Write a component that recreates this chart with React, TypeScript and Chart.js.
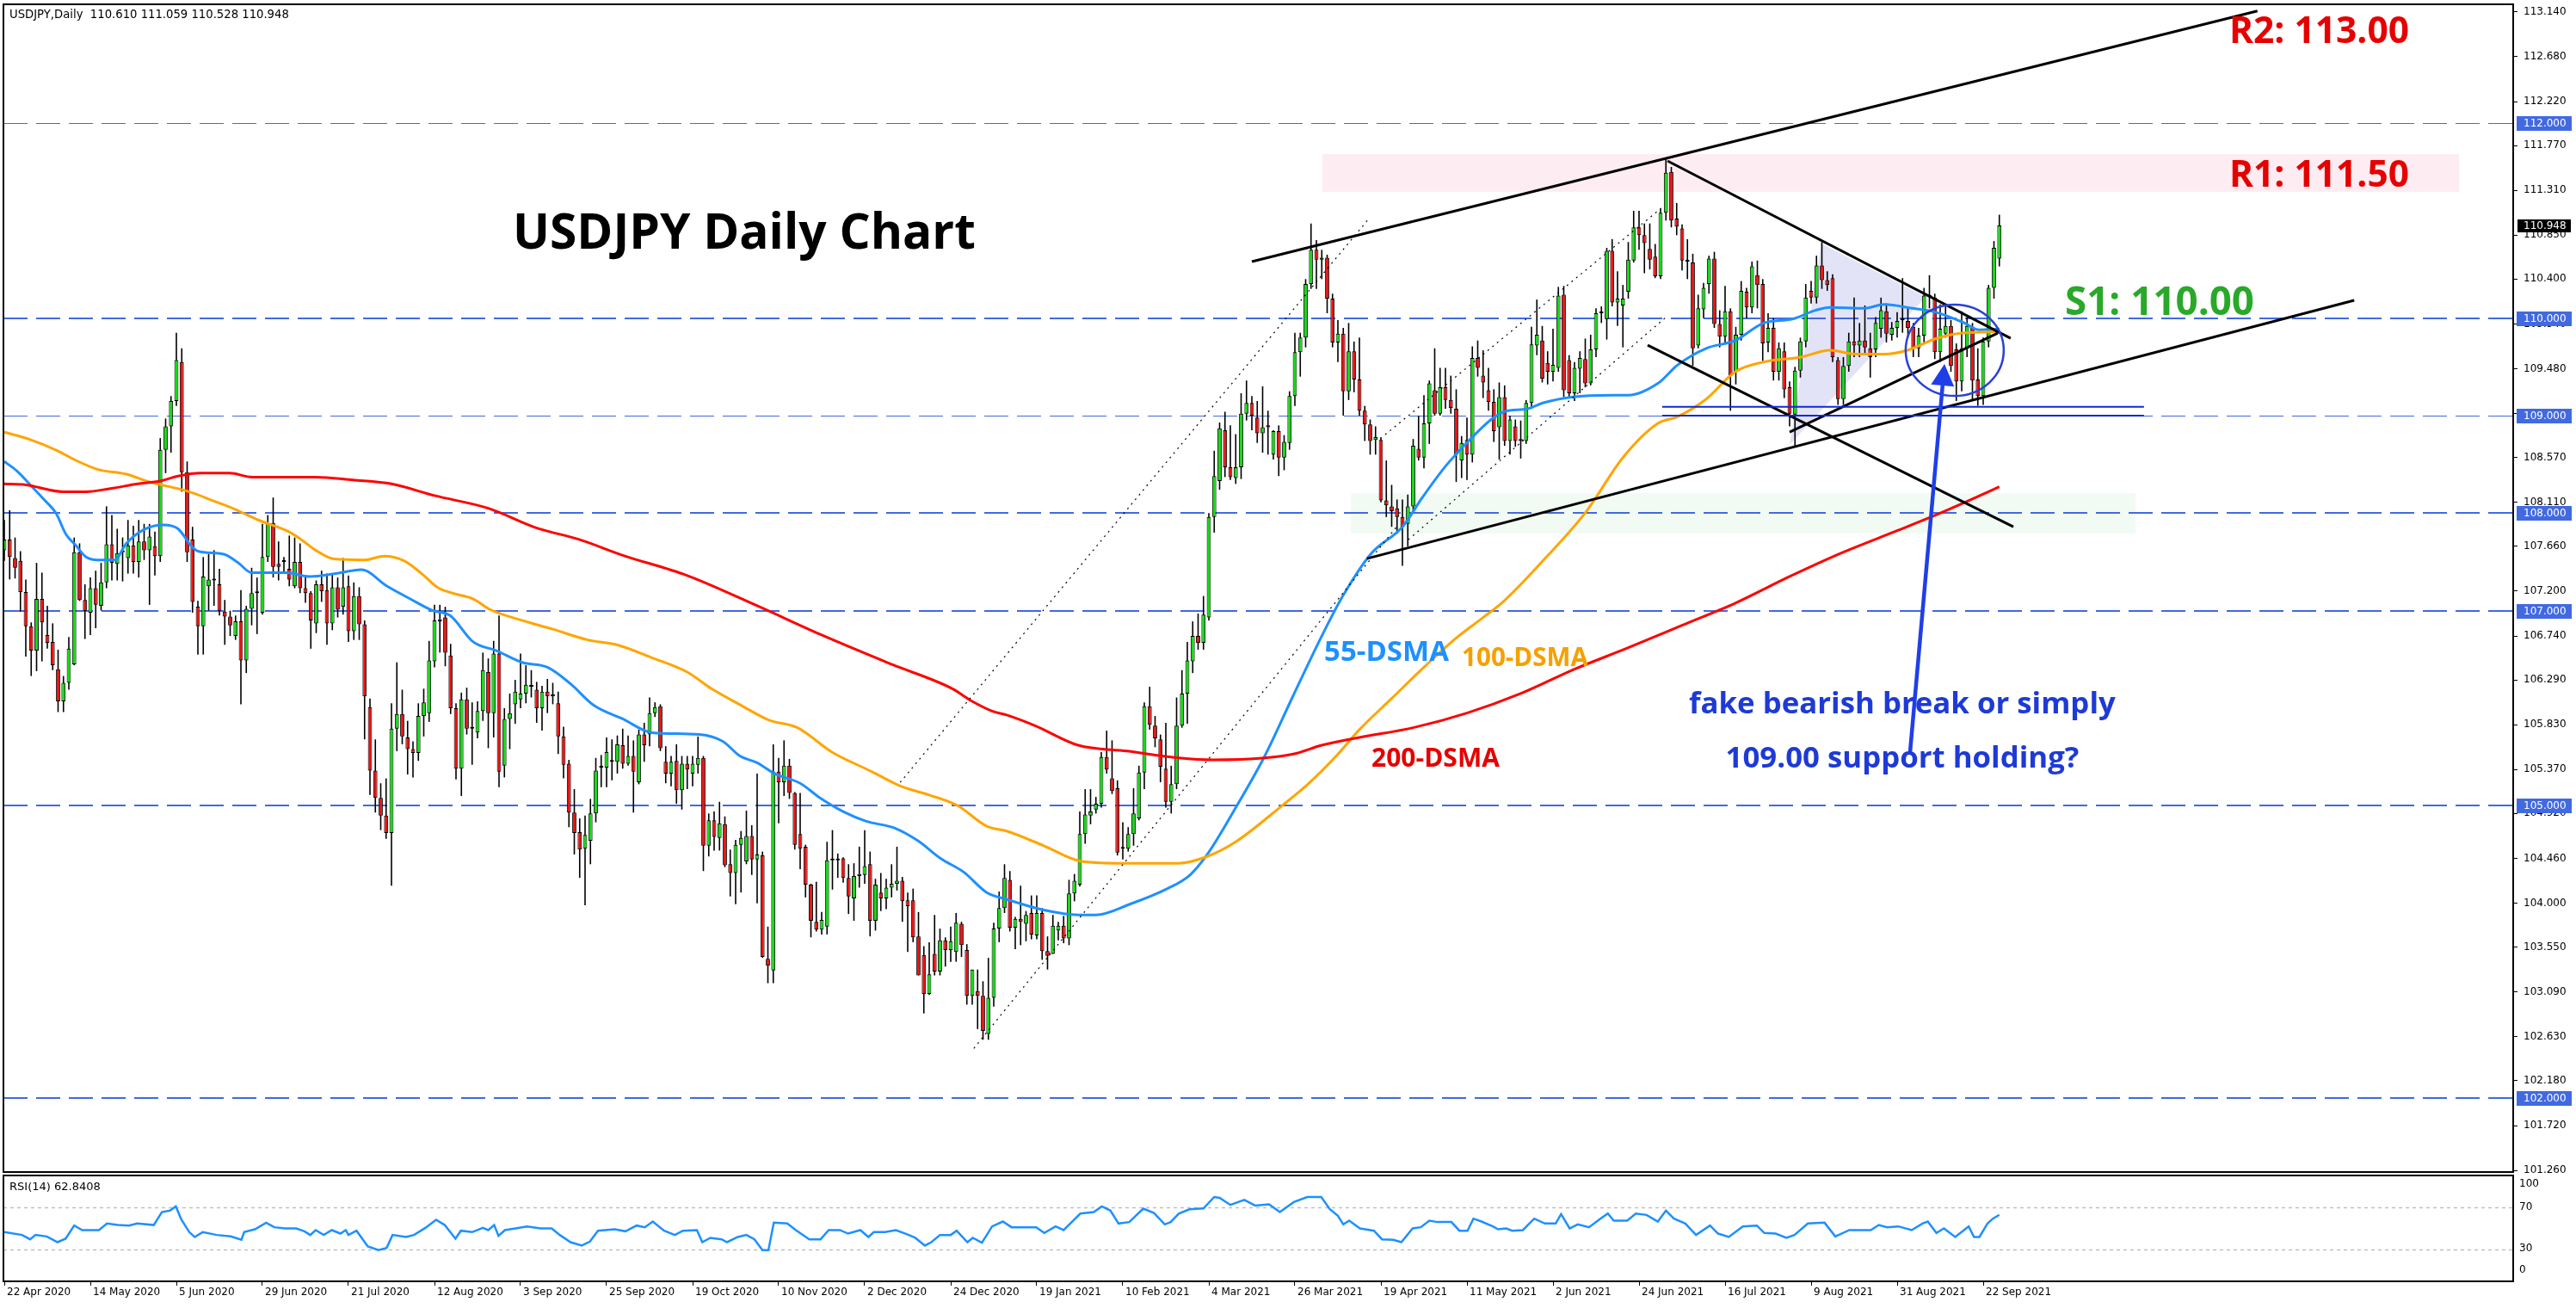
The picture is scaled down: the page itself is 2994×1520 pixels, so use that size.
import React, { useEffect, useRef } from 'react';
import { Chart, registerables } from 'chart.js';

Chart.register(...registerables);

// ---------------- data ----------------
const dateLabels = ['22 Apr 2020', '14 May 2020', '5 Jun 2020', '29 Jun 2020', '21 Jul 2020', '12 Aug 2020', '3 Sep 2020', '25 Sep 2020', '19 Oct 2020', '10 Nov 2020', '2 Dec 2020', '24 Dec 2020', '19 Jan 2021', '10 Feb 2021', '4 Mar 2021', '26 Mar 2021', '19 Apr 2021', '11 May 2021', '2 Jun 2021', '24 Jun 2021', '16 Jul 2021', '9 Aug 2021', '31 Aug 2021', '22 Sep 2021'];
const dateTickIndex = [0, 16, 32, 48, 64, 80, 96, 112, 128, 144, 160, 176, 192, 208, 224, 240, 256, 272, 288, 304, 320, 336, 352, 368];

const priceTicks = [113.14, 112.68, 112.22, 111.77, 111.31, 110.85, 110.4, 109.94, 109.48, 109.02, 108.57, 108.11, 107.66, 107.2, 106.74, 106.29, 105.83, 105.37, 104.92, 104.46, 104.0, 103.55, 103.09, 102.63, 102.18, 101.72, 101.26];
const levelPrices = [112, 110, 109, 108, 107, 105, 102];
const lastPrice = 110.948;
const headerText = 'USDJPY,Daily  110.610 111.059 110.528 110.948';
const rsiHeader = 'RSI(14) 62.8408';
const rsiLevels = [70, 30];
const rsiAxisLabels = ['100', '70', '30', '0'];

// daily candles [open, high, low, close], one per trading day from 22 Apr 2020
const ohlc: number[][] = [
  [107.62, 107.93, 107.51, 107.73], [107.73, 108.03, 107.32, 107.55], [107.54, 107.75, 107.33, 107.44], [107.51, 107.61, 106.99, 107.19], [107.19, 107.32, 106.53, 106.84],
  [106.84, 106.88, 106.33, 106.59], [106.59, 107.49, 106.38, 107.12], [107.12, 107.39, 106.48, 106.88], [106.75, 107.05, 106.61, 106.67], [106.68, 106.87, 106.39, 106.44],
  [106.40, 106.60, 105.96, 106.07], [106.07, 106.33, 105.96, 106.26], [106.26, 106.73, 106.19, 106.61], [106.45, 107.75, 106.44, 107.60], [107.60, 107.69, 107.10, 107.11],
  [107.11, 107.27, 106.71, 107.00], [106.98, 107.34, 106.75, 107.23], [107.23, 107.41, 106.82, 107.06], [107.05, 107.49, 107.00, 107.29], [107.29, 108.07, 107.23, 107.68],
  [107.68, 107.98, 107.31, 107.49], [107.48, 107.84, 107.31, 107.59], [107.60, 107.75, 107.30, 107.61], [107.54, 107.93, 107.38, 107.67], [107.67, 107.87, 107.38, 107.50],
  [107.50, 107.93, 107.34, 107.71], [107.71, 107.89, 107.52, 107.62], [107.62, 107.89, 107.06, 107.76], [107.66, 107.81, 107.36, 107.56], [107.56, 108.77, 107.50, 108.65],
  [108.65, 108.97, 108.41, 108.89], [108.89, 109.20, 108.62, 109.15], [109.15, 109.85, 109.10, 109.57], [109.55, 109.69, 108.22, 108.42], [108.42, 108.53, 107.50, 107.60],
  [107.73, 107.86, 106.98, 107.09], [107.04, 107.10, 106.55, 106.84], [106.84, 107.55, 106.55, 107.35], [107.25, 107.58, 107.00, 107.32], [107.32, 107.62, 107.05, 107.31],
  [107.27, 107.43, 106.95, 107.00], [106.99, 107.11, 106.65, 106.94], [106.94, 107.00, 106.74, 106.85], [106.74, 106.95, 106.70, 106.89], [106.89, 107.21, 106.04, 106.49],
  [106.49, 107.05, 106.36, 107.02], [107.02, 107.44, 106.85, 107.18], [107.18, 107.34, 106.76, 107.19], [106.98, 107.89, 106.96, 107.55], [107.55, 107.98, 107.50, 107.90],
  [107.90, 108.16, 107.34, 107.45], [107.48, 107.71, 107.31, 107.45], [107.50, 107.55, 107.40, 107.51], [107.43, 107.77, 107.25, 107.32], [107.25, 107.75, 107.23, 107.50],
  [107.50, 107.69, 107.18, 107.23], [107.23, 107.35, 107.08, 107.18], [107.18, 107.20, 106.61, 106.90], [106.87, 107.31, 106.77, 107.27], [107.27, 107.41, 107.09, 107.20],
  [107.21, 107.38, 106.65, 106.87], [106.87, 107.38, 106.80, 107.24], [107.24, 107.34, 106.93, 107.01], [107.04, 107.54, 106.96, 107.24], [107.25, 107.36, 106.68, 106.79],
  [106.79, 107.29, 106.70, 107.15], [107.15, 107.24, 106.70, 106.86], [106.86, 106.90, 105.68, 106.12], [106.01, 106.10, 105.11, 105.36], [105.36, 105.68, 104.93, 105.08],
  [105.08, 105.23, 104.75, 104.90], [104.90, 105.28, 104.66, 104.72], [104.72, 106.05, 104.18, 105.79], [105.79, 106.47, 105.56, 105.94], [105.94, 106.19, 105.63, 105.71],
  [105.70, 105.87, 105.32, 105.58], [105.58, 105.66, 105.29, 105.54], [105.54, 106.05, 105.46, 105.92], [105.92, 106.20, 105.71, 106.06], [105.95, 106.69, 105.86, 106.49],
  [106.48, 107.06, 106.42, 106.90], [106.89, 107.06, 106.57, 106.91], [106.93, 107.04, 106.43, 106.57], [106.54, 106.66, 105.94, 106.00], [106.00, 106.05, 105.27, 105.38],
  [105.38, 106.16, 105.10, 106.09], [106.09, 106.21, 105.73, 105.79], [105.79, 106.06, 105.42, 105.80], [105.75, 106.07, 105.69, 105.97], [105.97, 106.57, 105.87, 106.39],
  [106.37, 106.51, 105.59, 105.95], [105.95, 106.69, 105.70, 106.56], [106.56, 106.95, 105.19, 105.35], [105.41, 106.00, 105.29, 105.89], [105.89, 106.15, 105.58, 105.95],
  [106.04, 106.29, 105.84, 106.17], [106.09, 106.56, 106.00, 106.15], [106.15, 106.44, 106.05, 106.24], [106.22, 106.39, 106.11, 106.23], [106.19, 106.27, 105.85, 106.00],
  [106.00, 106.23, 105.77, 106.17], [106.17, 106.30, 105.95, 106.12], [106.14, 106.26, 106.04, 106.12], [106.05, 106.17, 105.53, 105.71], [105.71, 105.81, 105.28, 105.42],
  [105.43, 105.47, 104.78, 104.93], [104.93, 105.17, 104.50, 104.72], [104.73, 104.87, 104.26, 104.55], [104.56, 104.90, 103.98, 104.70], [104.64, 105.07, 104.40, 104.92],
  [104.92, 105.49, 104.83, 105.36], [105.39, 105.52, 105.19, 105.40], [105.39, 105.70, 105.19, 105.55], [105.45, 105.68, 105.26, 105.46], [105.45, 105.72, 105.33, 105.63],
  [105.62, 105.79, 105.38, 105.43], [105.43, 105.72, 105.41, 105.51], [105.51, 105.67, 104.93, 105.35], [105.24, 105.78, 105.22, 105.73], [105.73, 105.85, 105.45, 105.62],
  [105.73, 106.11, 105.61, 105.95], [105.95, 106.06, 105.91, 106.01], [106.02, 106.04, 105.56, 105.59], [105.45, 105.61, 105.23, 105.33], [105.33, 105.51, 105.20, 105.45],
  [105.46, 105.63, 105.02, 105.16], [105.16, 105.51, 104.96, 105.43], [105.43, 105.51, 105.17, 105.37], [105.33, 105.51, 105.20, 105.43], [105.42, 105.71, 105.33, 105.49],
  [105.49, 105.51, 104.33, 104.59], [104.59, 104.92, 104.48, 104.85], [104.85, 104.94, 104.54, 104.68], [104.67, 105.04, 104.54, 104.82], [104.81, 104.89, 104.37, 104.39],
  [104.40, 104.55, 104.07, 104.31], [104.31, 104.65, 103.99, 104.60], [104.60, 104.74, 104.11, 104.67], [104.43, 104.95, 104.40, 104.69], [104.69, 104.80, 104.29, 104.45],
  [104.45, 105.33, 104.00, 104.50], [104.49, 104.53, 103.44, 103.45], [103.43, 103.76, 103.18, 103.36], [103.31, 105.63, 103.18, 105.35], [105.35, 105.49, 104.82, 105.24],
  [105.24, 105.67, 105.10, 105.41], [105.41, 105.48, 105.07, 105.13], [105.13, 105.14, 104.55, 104.60], [104.71, 105.13, 104.35, 104.56], [104.58, 104.60, 104.06, 104.19],
  [104.19, 104.20, 103.65, 103.82], [103.81, 104.22, 103.71, 103.73], [103.73, 103.91, 103.68, 103.83], [103.76, 104.63, 103.68, 104.44], [104.44, 104.75, 104.14, 104.45],
  [104.44, 104.51, 104.26, 104.45], [104.46, 104.47, 104.21, 104.26], [104.26, 104.40, 103.89, 104.07], [104.05, 104.41, 103.82, 104.28], [104.28, 104.58, 104.16, 104.30],
  [104.29, 104.75, 104.20, 104.38], [104.40, 104.53, 103.66, 103.82], [103.82, 104.25, 103.72, 104.19], [104.11, 104.31, 103.92, 104.05], [104.05, 104.25, 103.94, 104.16],
  [104.16, 104.40, 104.06, 104.20], [104.20, 104.58, 104.13, 104.23], [104.23, 104.27, 103.81, 104.02], [104.03, 104.11, 103.50, 103.97], [104.03, 104.15, 103.60, 103.65],
  [103.66, 103.91, 103.26, 103.26], [103.47, 103.56, 102.87, 103.07], [103.07, 103.60, 103.06, 103.27], [103.48, 103.88, 103.26, 103.30], [103.30, 103.74, 103.26, 103.62],
  [103.62, 103.65, 103.35, 103.52], [103.52, 103.76, 103.40, 103.61], [103.50, 103.90, 103.40, 103.80], [103.79, 103.81, 103.45, 103.57], [103.52, 103.58, 102.96, 103.05],
  [103.05, 103.32, 102.96, 103.32], [103.10, 103.32, 102.71, 103.05], [103.05, 103.20, 102.60, 102.69], [102.66, 103.44, 102.60, 103.03], [103.03, 103.80, 102.94, 103.74],
  [103.74, 104.12, 103.60, 103.95], [103.95, 104.40, 103.90, 104.26], [104.24, 104.33, 103.71, 103.75], [103.75, 103.86, 103.53, 103.84], [103.84, 104.18, 103.57, 103.81],
  [103.79, 103.92, 103.61, 103.88], [103.90, 104.08, 103.63, 103.68], [103.67, 104.08, 103.63, 103.90], [103.90, 103.95, 103.42, 103.51], [103.51, 103.66, 103.32, 103.46],
  [103.48, 103.88, 103.48, 103.77], [103.72, 103.81, 103.62, 103.77], [103.77, 103.87, 103.59, 103.64], [103.64, 104.24, 103.57, 104.10], [104.10, 104.30, 104.02, 104.23],
  [104.19, 104.94, 104.17, 104.71], [104.71, 105.17, 104.61, 104.91], [104.90, 105.17, 104.81, 104.94], [104.96, 105.09, 104.92, 105.02], [105.02, 105.55, 104.98, 105.50],
  [105.50, 105.77, 105.33, 105.37], [105.28, 105.67, 105.12, 105.15], [105.18, 105.26, 104.49, 104.52], [104.56, 104.83, 104.45, 104.57], [104.56, 104.78, 104.53, 104.71],
  [104.71, 105.18, 104.59, 104.92], [104.87, 105.41, 104.85, 105.34], [105.34, 106.06, 105.17, 106.02], [106.02, 106.22, 105.78, 105.83], [105.82, 105.92, 105.60, 105.69],
  [105.68, 105.73, 105.24, 105.40], [105.38, 105.85, 104.98, 105.04], [105.04, 105.41, 104.92, 105.22], [105.22, 106.11, 105.17, 105.82], [105.82, 106.39, 105.80, 106.15],
  [106.15, 106.68, 105.84, 106.49], [106.48, 106.89, 106.36, 106.74], [106.74, 106.97, 106.60, 106.67], [106.67, 107.15, 106.60, 106.96], [106.93, 108.00, 106.90, 107.96],
  [107.96, 108.64, 107.80, 108.38], [108.33, 108.93, 108.24, 108.87], [108.85, 109.04, 108.37, 108.47], [108.47, 108.90, 108.34, 108.37], [108.36, 108.81, 108.30, 108.47],
  [108.47, 109.23, 108.35, 109.02], [109.02, 109.36, 108.95, 109.13], [109.13, 109.20, 108.85, 109.00], [108.98, 109.15, 108.72, 108.82], [108.82, 109.30, 108.62, 108.88],
  [108.90, 109.05, 108.60, 108.88], [108.60, 108.85, 108.55, 108.84], [108.84, 108.90, 108.38, 108.57], [108.57, 108.80, 108.44, 108.73], [108.72, 109.25, 108.65, 109.20],
  [109.20, 109.85, 109.10, 109.65], [109.65, 109.85, 109.40, 109.80], [109.80, 110.40, 109.70, 110.35], [110.35, 110.97, 110.30, 110.70], [110.70, 110.80, 110.30, 110.60],
  [110.60, 110.70, 110.40, 110.62], [110.62, 110.65, 110.05, 110.20], [110.20, 110.25, 109.70, 109.75], [109.75, 109.98, 109.55, 109.84], [109.84, 109.90, 109.00, 109.25],
  [109.25, 109.95, 109.16, 109.66], [109.66, 109.76, 109.24, 109.37], [109.37, 109.80, 109.00, 109.05], [109.05, 109.10, 108.74, 108.91], [108.91, 108.96, 108.60, 108.74],
  [108.75, 108.89, 108.60, 108.78], [108.75, 108.78, 108.11, 108.13], [108.13, 108.54, 107.96, 108.08], [108.07, 108.29, 107.86, 108.02], [108.05, 108.14, 107.79, 107.96],
  [107.96, 108.14, 107.46, 107.86], [107.89, 108.19, 107.66, 108.07], [108.07, 108.76, 108.00, 108.69], [108.66, 109.00, 108.54, 108.57], [108.57, 109.21, 108.46, 108.92],
  [108.92, 109.36, 108.71, 109.33], [109.26, 109.69, 109.00, 109.02], [109.02, 109.49, 109.00, 109.29], [109.29, 109.49, 109.07, 109.16], [109.16, 109.41, 109.02, 109.08],
  [109.07, 109.27, 108.32, 108.60], [108.54, 108.79, 108.36, 108.72], [108.75, 108.98, 108.34, 108.60], [108.60, 109.71, 108.52, 109.59], [109.59, 109.77, 109.40, 109.49],
  [109.41, 109.67, 109.18, 109.34], [109.26, 109.49, 109.05, 109.14], [109.14, 109.27, 108.73, 108.84], [108.88, 109.34, 108.55, 109.19], [109.19, 109.31, 108.69, 108.74],
  [108.74, 109.00, 108.60, 108.96], [108.89, 108.96, 108.68, 108.74], [108.76, 108.95, 108.56, 108.74], [108.74, 109.16, 108.71, 109.13], [109.13, 109.91, 109.08, 109.73],
  [109.72, 110.19, 109.62, 109.83], [109.77, 109.92, 109.34, 109.38], [109.54, 109.66, 109.32, 109.45], [109.45, 109.89, 109.35, 109.52], [109.49, 110.32, 109.45, 110.23],
  [110.24, 110.33, 109.19, 109.26], [109.57, 109.62, 109.19, 109.23], [109.23, 109.55, 109.15, 109.49], [109.48, 109.66, 109.23, 109.59], [109.58, 109.79, 109.29, 109.33],
  [109.33, 109.83, 109.31, 109.68], [109.68, 110.10, 109.60, 110.05], [110.05, 110.12, 109.95, 110.06], [109.99, 110.72, 109.78, 110.69], [110.69, 110.81, 110.12, 110.16],
  [110.16, 110.48, 109.92, 110.20], [110.13, 110.34, 109.70, 110.20], [110.27, 110.78, 110.20, 110.60], [110.59, 111.10, 110.57, 110.93], [110.93, 111.10, 110.70, 110.85],
  [110.85, 110.97, 110.46, 110.77], [110.71, 110.97, 110.50, 110.60], [110.63, 110.76, 110.41, 110.43], [110.43, 111.12, 110.40, 111.08], [111.08, 111.63, 111.00, 111.49],
  [111.50, 111.55, 110.93, 111.00], [111.02, 111.18, 110.85, 110.94], [110.92, 110.96, 110.49, 110.59], [110.59, 110.81, 110.40, 110.58], [110.57, 110.66, 109.51, 109.69],
  [109.72, 110.24, 109.69, 110.10], [110.09, 110.36, 110.00, 110.31], [110.35, 110.64, 110.25, 110.61], [110.61, 110.68, 109.90, 109.94], [109.94, 110.08, 109.70, 109.81],
  [109.81, 110.33, 109.75, 110.07], [110.07, 110.10, 109.05, 109.41], [109.45, 109.91, 109.32, 109.83], [109.83, 110.38, 109.77, 110.28], [110.27, 110.31, 110.00, 110.11],
  [110.11, 110.58, 110.05, 110.53], [110.44, 110.59, 110.10, 110.34], [110.35, 110.40, 109.56, 109.74], [109.75, 110.05, 109.65, 109.90], [109.90, 110.00, 109.36, 109.45],
  [109.45, 109.75, 109.36, 109.69], [109.66, 109.75, 109.18, 109.27], [109.29, 109.35, 108.89, 109.02], [109.01, 109.50, 108.69, 109.46], [109.46, 109.80, 109.39, 109.76],
  [109.76, 110.35, 109.70, 110.21], [110.28, 110.38, 110.15, 110.21], [110.21, 110.64, 110.15, 110.54], [110.54, 110.78, 110.30, 110.39], [110.39, 110.48, 110.28, 110.34],
  [110.41, 110.45, 109.55, 109.60], [109.57, 109.60, 109.11, 109.17], [109.17, 109.60, 109.11, 109.51], [109.51, 109.85, 109.45, 109.76], [109.76, 110.21, 109.60, 109.72],
  [109.72, 109.95, 109.60, 109.77], [109.77, 110.13, 109.62, 109.70], [109.69, 109.85, 109.39, 109.60], [109.68, 110.01, 109.60, 109.95], [109.89, 110.21, 109.80, 110.08],
  [110.07, 110.15, 109.75, 109.84], [109.83, 109.96, 109.77, 109.90], [109.90, 110.06, 109.80, 109.97], [109.99, 110.41, 109.85, 109.98], [109.97, 110.10, 109.80, 109.90],
  [109.91, 109.95, 109.60, 109.69], [109.69, 109.90, 109.60, 109.82], [109.82, 110.31, 109.75, 110.23], [110.24, 110.44, 110.10, 110.22], [110.21, 110.25, 109.58, 109.65],
  [109.65, 110.14, 109.55, 109.89], [109.84, 110.13, 109.80, 109.92], [109.92, 109.98, 109.45, 109.51], [109.68, 109.74, 109.15, 109.35], [109.35, 110.07, 109.25, 109.69],
  [109.69, 110.01, 109.60, 109.92], [109.91, 109.95, 109.15, 109.36], [109.37, 109.69, 109.10, 109.20], [109.20, 109.80, 109.11, 109.76], [109.76, 110.34, 109.70, 110.31],
  [110.31, 110.79, 110.20, 110.72], [110.61, 111.06, 110.53, 110.95],
];

// moving averages: [bar index, value]
const ma55: number[][] = [
  [0, 108.53], [2.4, 108.43], [4.5, 108.31], [7.2, 108.15], [9.6, 108.0], [11.5, 107.78], [13.3, 107.67], [15.2, 107.55], [17.3, 107.52], [20.5, 107.52],
  [22.7, 107.69], [25.9, 107.83], [29.6, 107.88], [32.3, 107.84], [34.7, 107.67], [36, 107.61], [40.8, 107.58], [43.5, 107.49], [46, 107.39], [52.5, 107.39],
  [56.8, 107.35], [61.6, 107.38], [66.4, 107.42], [71.2, 107.25], [75.5, 107.12], [79.7, 107.0], [82.9, 106.95], [87.2, 106.68], [91.5, 106.59], [96.3, 106.47],
  [101, 106.42], [105.3, 106.25], [109.6, 106.03], [115, 105.89], [120.3, 105.75], [124, 105.74], [129.3, 105.73], [133.6, 105.66], [136.8, 105.51], [140, 105.44],
  [143.2, 105.33], [148, 105.23], [151.7, 105.08], [156, 104.94], [160.3, 104.84], [165.6, 104.77], [169.9, 104.64], [174.1, 104.46], [178.4, 104.32], [182.7, 104.11],
  [186.4, 104.04], [193.3, 103.93], [199.7, 103.88], [203, 103.88], [209.3, 103.99], [216.3, 104.15], [220.5, 104.29], [223.7, 104.5], [229, 104.98], [234.4, 105.51],
  [239.7, 106.13], [245, 106.74], [248.8, 107.14], [254.1, 107.58], [260, 107.86], [263.7, 108.16], [268, 108.48], [272.3, 108.74], [276.5, 108.96], [278.9, 109.04],
  [283.3, 109.07], [286.1, 109.13], [291.5, 109.19], [299, 109.21], [302, 109.21], [307.5, 109.33], [311.2, 109.52], [316.5, 109.69], [321.9, 109.77], [327.2, 109.95],
  [332.5, 109.99], [336.8, 110.08], [339.5, 110.11], [345.9, 110.1], [349.6, 110.14], [354.9, 110.1], [359.2, 110.06], [364.5, 109.95], [367.2, 109.88], [371, 109.89],
];
const ma100: number[][] = [
  [0, 108.83], [4.5, 108.76], [9.9, 108.64], [13, 108.55], [17.3, 108.45], [22.7, 108.4], [27, 108.32], [30, 108.28], [34.4, 108.22], [38.7, 108.13],
  [42.9, 108.04], [47.2, 107.93], [52.5, 107.82], [55.2, 107.73], [57.9, 107.62], [61.3, 107.53], [66.9, 107.52], [70.7, 107.56], [74.4, 107.51], [77.6, 107.38],
  [80.8, 107.23], [84, 107.17], [87.2, 107.12], [90.4, 107.01], [95.7, 106.91], [102, 106.81], [108.5, 106.7], [113.9, 106.65], [120.3, 106.52], [127, 106.37],
  [131.5, 106.2], [137, 106.03], [142.1, 105.88], [147.5, 105.8], [153.9, 105.55], [161.3, 105.35], [166.7, 105.2], [172, 105.11], [177.3, 105.0], [182.7, 104.79],
  [186.4, 104.74], [193.3, 104.59], [200.3, 104.43], [208.8, 104.41], [218.4, 104.41], [223.7, 104.48], [229, 104.63], [237.6, 105.0], [242.4, 105.22], [247.7, 105.51],
  [252, 105.78], [258, 106.1], [264, 106.42], [270, 106.72], [275, 106.93], [278.9, 107.1], [286.1, 107.51], [294.1, 108.01], [301, 108.57], [307.5, 108.92],
  [311.2, 108.99], [316.5, 109.17], [321.9, 109.45], [327.2, 109.55], [334.1, 109.6], [339.5, 109.67], [344.3, 109.63], [349.6, 109.63], [353.9, 109.67], [359.2, 109.79],
  [364.5, 109.85], [371, 109.86],
];
const ma200: number[][] = [
  [0, 108.3], [4, 108.29], [10.9, 108.22], [15.2, 108.22], [19.5, 108.25], [24.8, 108.3], [29, 108.33], [32.3, 108.38], [36.5, 108.41], [41.9, 108.41],
  [46.1, 108.37], [57.9, 108.37], [64.8, 108.34], [72, 108.3], [80, 108.18], [90, 108.05], [98.9, 107.85], [106.9, 107.73], [114.9, 107.57], [127, 107.36],
  [140, 107.05], [152, 106.75], [165, 106.45], [176.3, 106.2], [180, 106.07], [183.7, 105.97], [186.4, 105.93], [191.7, 105.82], [199.7, 105.62], [208.8, 105.56],
  [218.4, 105.49], [224.8, 105.47], [234.4, 105.49], [239.7, 105.53], [245, 105.62], [252, 105.7], [262, 105.8], [272, 105.95], [282, 106.15], [292, 106.4],
  [302, 106.62], [312, 106.85], [322, 107.08], [332, 107.35], [342, 107.6], [352, 107.82], [359.6, 107.99], [365, 108.12], [371, 108.27],
];
const rsi14: number[][] = [
  [0, 46.5], [3.3, 43.8], [4.8, 39.7], [5.8, 43.8], [7.9, 42.4], [9.9, 37], [11.4, 40.3], [13, 52.7], [14.5, 48.4], [17.6, 48.4], [19.1, 54.6], [21.1, 53.2], [23.2, 52.7],
  [24.7, 54.6], [27.8, 53.2], [29.3, 65.4], [30.8, 66.8], [31.9, 70.8], [32.9, 58.7], [34.4, 46.5], [35.4, 41.9], [36.9, 46.5], [39.5, 43.8], [42.1, 42.4], [44.1, 39.2],
  [44.6, 46.5], [46.6, 49.2], [48.7, 55.4], [50.2, 51.1], [52.2, 50], [54.3, 50], [55.8, 47.3], [56.9, 43.8], [57.9, 48.4], [59.4, 43.8], [60.9, 48.4], [62.5, 45.1],
  [63.5, 48.4], [64, 43.8], [65.5, 47.8], [67.6, 33], [69.6, 29.5], [71.1, 31.6], [72.2, 43.8], [74.7, 41.9], [76.2, 43.8], [78.3, 50.5], [80.3, 58.1], [81.9, 53.2],
  [83.9, 40.3], [84.9, 47.8], [87, 46.5], [89, 50.5], [90, 48.4], [91.1, 53.2], [91.9, 43], [93.1, 48.4], [95.1, 50], [97.2, 51.9], [99.7, 50], [101.8, 50], [103.3, 43.8],
  [105.3, 37], [107.4, 33.8], [108.9, 37.6], [110.4, 47.8], [113.5, 49.2], [115.5, 47.3], [117.6, 52.7], [119.1, 51.1], [120.6, 56.5], [122.7, 47.8], [124.7, 43.8],
  [126.2, 47.8], [128.8, 48.4], [129.8, 37], [131.3, 41.1], [133.4, 39.7], [134.4, 37], [136.4, 41.9], [138, 43.8], [139.5, 39.7], [141, 29.5], [142.1, 29.5], [143.1, 55.4],
  [145.6, 54.6], [147.2, 48.4], [149.7, 39.7], [151.8, 39.7], [153.3, 48.4], [155.4, 48.4], [156.9, 45.1], [159.2, 48.4], [160.7, 41.9], [161.7, 46.5], [163.8, 46.5],
  [165.8, 48.4], [167.8, 44.6], [169.4, 41.1], [171.2, 33.8], [172.4, 37], [174, 43.8], [176, 43.8], [177.1, 47.8], [179.1, 37], [180.1, 41.1], [181.8, 36.5], [183.7, 51.9],
  [185.7, 56.5], [187.3, 51.1], [191.9, 51.1], [193.4, 45.7], [195.5, 51.9], [197, 48.4], [198.5, 56], [200.1, 64], [202.6, 65.4], [204.1, 70.8], [205.7, 66.8], [207.2, 54.6],
  [209.2, 56], [211.8, 68.7], [213.8, 64.6], [215.8, 53.8], [216.9, 56], [218.4, 64], [220.4, 68.1], [223, 68.9], [225, 79.7], [226, 78.9], [228, 72.2], [230.6, 77],
  [232.6, 71.6], [235.2, 72.7], [237.2, 65.4], [239.8, 74.9], [242.3, 79.7], [244.9, 79.7], [246.5, 68.1], [248, 61.9], [249, 53.8], [250.1, 57.3], [252.1, 50], [254.7, 47.8],
  [256.2, 39.7], [258.3, 39.2], [259.8, 37], [261.9, 50], [263.4, 51.1], [265, 57.3], [266.5, 56], [269.1, 56], [270.6, 47.8], [272.1, 47.8], [273.2, 59.2], [274.7, 56.5],
  [276.8, 51.9], [277.8, 49.2], [279.3, 50], [280.4, 47.8], [282.4, 48.4], [284.5, 59.2], [286.5, 54.6], [288.5, 54.6], [289.5, 63.5], [291.1, 50], [292.6, 53.8], [294.7, 51.1],
  [296.7, 58.7], [298.2, 64], [299.3, 57.3], [301.8, 57.3], [303.4, 64], [305.4, 62.7], [307.5, 56.5], [309, 66.8], [310.5, 59.2], [312.6, 54.6], [314.6, 43.8], [317.2, 52.7],
  [318.7, 45.1], [320.7, 41.9], [323.3, 51.9], [325.9, 52.7], [327.3, 45.7], [329.4, 45.1], [331.4, 41.1], [332.9, 43.8], [335.4, 54.6], [338.5, 55.4], [340.5, 42.4],
  [343.1, 48.4], [347.1, 48.4], [348.6, 53.2], [350.1, 51.1], [352.2, 51.9], [354.7, 48.4], [356.7, 54.6], [357.7, 56.5], [359.3, 45.7], [360.7, 50], [362.8, 41.9],
  [365.3, 51.9], [366.3, 41.9], [367.3, 41.9], [368.8, 54.6], [369.8, 59.2], [371, 62.84],
];

// ---------------- annotation geometry (in bar index / price units) ----------------
const thickLines = [
  [232, 110.58, 419, 113.15],
  [253.4, 107.534, 437, 110.182],
  [309.3, 111.612, 373.1, 109.793],
  [305.6, 109.723, 373.6, 107.861],
  [332, 108.831, 370.7, 109.846],
];
const dottedLines = [
  [166.6, 105.239, 253.9, 111.029],
  [180.3, 102.512, 259.2, 107.878],
  [261.1, 107.728, 309.1, 110.014],
  [256.8, 108.805, 308.5, 111.144],
];
const supportLines = [[308.3, 109.09, 397.9], [308.3, 109.0, 397.9]];
const pinkZone = [245.1, 111.682, 456.5, 111.294];
const greenZone = [250.4, 108.205, 396.3, 107.79];
const triangle = [[337.9, 110.764], [332, 108.699], [357.3, 110.217]];
const ellipse = { x: 362.7, y: 109.67, rx: 9.12, ry: 0.468 };
const arrow = [354.4, 105.548, 360.8, 109.529];

// ---------------- styling ----------------
const W = 2994, H = 1520, MAIN_H = 1364, RSI_H = H - MAIN_H;
const XMIN = -0.16, XMAX = 466.56;
const YMIN = 101.2437, YMAX = 113.2177;
const AXIS_W = 73;
const UP = '#12dc12', DOWN = '#ee1010';
const LEVEL_BLUE = '#4169e1';
const levelWidths = [1, 2, 1, 2, 2, 2, 2];
const TXT_FONT = "'Open Sans', 'DejaVu Sans', sans-serif";
const AX_FONT = "'DejaVu Sans', sans-serif";

function fitText(ctx: CanvasRenderingContext2D, text: string, x1: number, x2: number, yc: number, color: string, weight = '700', family = TXT_FONT) {
  ctx.font = `${weight} 100px ${family}`;
  const w = ctx.measureText(text).width;
  const size = (100 * (x2 - x1)) / w;
  ctx.font = `${weight} ${size}px ${family}`;
  ctx.fillStyle = color;
  ctx.textAlign = 'left';
  ctx.textBaseline = 'middle';
  ctx.fillText(text, x1, yc);
  return size;
}

const labelTexts = [
  { t: 'USDJPY Daily Chart', x1: 596, x2: 1134, y: 273, c: '#000000' },
  { t: 'R2: 113.00', x1: 2591, x2: 2800, y: 38, c: '#e60000' },
  { t: 'R1: 111.50', x1: 2591, x2: 2800, y: 205, c: '#e60000' },
  { t: 'S1: 110.00', x1: 2400, x2: 2620, y: 353, c: '#2aa82a' },
  { t: '55-DSMA', x1: 1539, x2: 1684, y: 759, c: '#1e90ff' },
  { t: '100-DSMA', x1: 1699, x2: 1846, y: 766, c: '#f5a000' },
  { t: '200-DSMA', x1: 1594, x2: 1743, y: 882, c: '#e60000' },
];

const mainDecor = {
  id: 'mainDecor',
  beforeDatasetsDraw(chart: any) {
    const { ctx, chartArea: a, scales } = chart;
    const X = (v: number) => scales.x.getPixelForValue(v);
    const Y = (v: number) => scales.y.getPixelForValue(v);
    ctx.save();
    ctx.beginPath();
    ctx.rect(a.left, a.top, a.right - a.left, a.bottom - a.top);
    ctx.clip();
    ctx.fillStyle = '#fdedf2';
    ctx.fillRect(X(pinkZone[0]), Y(pinkZone[1]), X(pinkZone[2]) - X(pinkZone[0]), Y(pinkZone[3]) - Y(pinkZone[1]));
    ctx.fillStyle = '#f1fbf4';
    ctx.fillRect(X(greenZone[0]), Y(greenZone[1]), X(greenZone[2]) - X(greenZone[0]), Y(greenZone[3]) - Y(greenZone[1]));
    ctx.fillStyle = '#e3e3f7';
    ctx.beginPath();
    triangle.forEach((p, k) => (k ? ctx.lineTo(X(p[0]), Y(p[1])) : ctx.moveTo(X(p[0]), Y(p[1]))));
    ctx.closePath();
    ctx.fill();
    levelPrices.forEach((p, k) => {
      const lw = levelWidths[k];
      const yy = Math.round(Y(p)) + (lw % 2 ? 0.5 : 0);
      ctx.beginPath();
      ctx.setLineDash([28, 10]);
      ctx.lineWidth = lw;
      ctx.strokeStyle = LEVEL_BLUE;
      ctx.moveTo(a.left, yy);
      ctx.lineTo(a.right, yy);
      ctx.stroke();
    });
    ctx.restore();
  },
  afterDatasetsDraw(chart: any) {
    const { ctx, chartArea: a, scales } = chart;
    const X = (v: number) => scales.x.getPixelForValue(v);
    const Y = (v: number) => scales.y.getPixelForValue(v);
    ctx.save();
    ctx.beginPath();
    ctx.rect(a.left, a.top, a.right - a.left, a.bottom - a.top);
    ctx.clip();
    ctx.strokeStyle = '#000';
    ctx.lineWidth = 1.2;
    ctx.setLineDash([2, 5]);
    dottedLines.forEach((l) => {
      ctx.beginPath();
      ctx.moveTo(X(l[0]), Y(l[1]));
      ctx.lineTo(X(l[2]), Y(l[3]));
      ctx.stroke();
    });
    ctx.setLineDash([]);
    ctx.lineWidth = 3;
    thickLines.forEach((l) => {
      ctx.beginPath();
      ctx.moveTo(X(l[0]), Y(l[1]));
      ctx.lineTo(X(l[2]), Y(l[3]));
      ctx.stroke();
    });
    ctx.strokeStyle = '#1029d8';
    ctx.lineWidth = 2;
    supportLines.forEach((l) => {
      ctx.beginPath();
      ctx.moveTo(X(l[0]), Y(l[1]));
      ctx.lineTo(X(l[2]), Y(l[1]));
      ctx.stroke();
    });
    const cx = X(ellipse.x), cy = Y(ellipse.y);
    const rx = X(ellipse.x + ellipse.rx) - cx, ry = cy - Y(ellipse.y + ellipse.ry);
    ctx.strokeStyle = '#2a40d8';
    ctx.lineWidth = 2.5;
    ctx.beginPath();
    ctx.ellipse(cx, cy, rx, ry, 0, 0, Math.PI * 2);
    ctx.stroke();
    const ax1 = X(arrow[0]), ay1 = Y(arrow[1]), ax2 = X(arrow[2]), ay2 = Y(arrow[3]);
    const len = Math.hypot(ax2 - ax1, ay2 - ay1);
    const ux = (ax2 - ax1) / len, uy = (ay2 - ay1) / len;
    const headL = 25, headW = 13.5;
    const bx = ax2 - ux * headL, by = ay2 - uy * headL;
    ctx.strokeStyle = '#1f3fe6';
    ctx.fillStyle = '#1f3fe6';
    ctx.lineWidth = 4.5;
    ctx.beginPath();
    ctx.moveTo(ax1, ay1);
    ctx.lineTo(bx + ux * 2, by + uy * 2);
    ctx.stroke();
    ctx.beginPath();
    ctx.moveTo(ax2, ay2);
    ctx.lineTo(bx - uy * headW, by + ux * headW);
    ctx.lineTo(bx + uy * headW, by - ux * headW);
    ctx.closePath();
    ctx.fill();
    ctx.restore();

    ctx.save();
    labelTexts.forEach((t) => fitText(ctx, t.t, t.x1, t.x2, t.y, t.c));
    const l1 = 'fake bearish break or simply';
    const l2 = '109.00 support holding?';
    const size = fitText(ctx, l1, 1963, 2459, 819, '#1e3ad6');
    ctx.font = `700 ${size}px ${TXT_FONT}`;
    ctx.textAlign = 'center';
    ctx.fillText(l2, 2211, 882);
    ctx.restore();
  },
  afterDraw(chart: any) {
    const { ctx, chartArea: a, scales } = chart;
    const Y = (v: number) => scales.y.getPixelForValue(v);
    ctx.save();
    ctx.font = `12px ${AX_FONT}`;
    ctx.textBaseline = 'middle';
    ctx.textAlign = 'left';
    levelPrices.forEach((p) => {
      const yy = Math.round(Y(p));
      ctx.fillStyle = LEVEL_BLUE;
      ctx.fillRect(a.right + 4, yy - 8, 64, 17);
      ctx.fillStyle = '#ffffff';
      ctx.fillText(p.toFixed(3), a.right + 12, yy + 0.5);
    });
    const ly = Math.round(Y(lastPrice));
    ctx.fillStyle = '#000';
    ctx.fillRect(a.right + 5, ly - 7, 62, 15);
    ctx.fillStyle = '#fff';
    ctx.fillText(lastPrice.toFixed(3), a.right + 12, ly + 0.5);
    ctx.strokeStyle = '#000';
    ctx.lineWidth = 2;
    ctx.strokeRect(a.left, a.top, a.right - a.left, a.bottom - a.top);
    fitText(ctx, headerText, 11, 336, 18, '#000', '400', AX_FONT);
    ctx.restore();
  },
};

const rsiDecor = {
  id: 'rsiDecor',
  beforeDatasetsDraw(chart: any) {
    const { ctx, chartArea: a, scales } = chart;
    const Y = (v: number) => scales.y.getPixelForValue(v);
    ctx.save();
    ctx.strokeStyle = '#c0c0c0';
    ctx.lineWidth = 1.5;
    ctx.setLineDash([4, 4]);
    rsiLevels.forEach((v) => {
      const yy = Math.round(Y(v)) + 0.5;
      ctx.beginPath();
      ctx.moveTo(a.left, yy);
      ctx.lineTo(a.right, yy);
      ctx.stroke();
    });
    ctx.restore();
  },
  afterDraw(chart: any) {
    const { ctx, chartArea: a } = chart;
    ctx.save();
    ctx.strokeStyle = '#000';
    ctx.lineWidth = 2;
    ctx.strokeRect(a.left, a.top, a.right - a.left, a.bottom - a.top);
    ctx.font = `12px ${AX_FONT}`;
    ctx.fillStyle = '#000';
    ctx.textAlign = 'left';
    ctx.textBaseline = 'middle';
    const ys = [12, 39, 87, 112];
    rsiAxisLabels.forEach((t, k) => ctx.fillText(t, a.right + 7, ys[k]));
    fitText(ctx, rsiHeader, 11, 117, 16, '#000', '400', AX_FONT);
    ctx.restore();
  },
};

export default function App() {
  const mainRef = useRef<HTMLCanvasElement>(null);
  const rsiRef = useRef<HTMLCanvasElement>(null);

  useEffect(() => {
    const wicks = ohlc.map((d, i) => ({ x: i, y: [d[2], d[1]] }));
    const bodies = ohlc.map((d, i) => ({ x: i, y: [d[0], d[3]] }));
    const bodyColors = ohlc.map((d) => (d[3] >= d[0] ? UP : DOWN));
    const pts = (arr: number[][]) => arr.map((p) => ({ x: p[0], y: p[1] }));

    const main = new Chart(mainRef.current as HTMLCanvasElement, {
      type: 'bar',
      data: {
        datasets: [
          { type: 'line', data: pts(ma200), borderColor: '#ff0000', borderWidth: 3, pointRadius: 0, tension: 0.4, cubicInterpolationMode: 'monotone', order: 0 } as any,
          { type: 'line', data: pts(ma100), borderColor: '#ffa500', borderWidth: 3, pointRadius: 0, tension: 0.4, cubicInterpolationMode: 'monotone', order: 0 } as any,
          { type: 'line', data: pts(ma55), borderColor: '#1e90ff', borderWidth: 3, pointRadius: 0, tension: 0.4, cubicInterpolationMode: 'monotone', order: 0 } as any,
          { type: 'bar', data: bodies, backgroundColor: bodyColors, borderColor: '#000', borderWidth: 1, borderSkipped: false, barThickness: 4.8, minBarLength: 2, grouped: false, inflateAmount: 0, order: 1 } as any,
          { type: 'bar', data: wicks, backgroundColor: '#000', borderWidth: 0, barThickness: 1.6, grouped: false, inflateAmount: 0, order: 2 } as any,
        ],
      },
      options: {
        animation: false,
        responsive: false,
        devicePixelRatio: 1,
        events: [],
        layout: { padding: { left: 4, top: 5, right: 0, bottom: 2 } },
        plugins: { legend: { display: false }, tooltip: { enabled: false } },
        scales: {
          x: { type: 'linear', min: XMIN, max: XMAX, display: false, offset: false, grid: { offset: false } },
          y: {
            type: 'linear', position: 'right', min: YMIN, max: YMAX,
            afterFit: (s: any) => { s.width = AXIS_W; s.paddingTop = 0; s.paddingBottom = 0; },
            afterBuildTicks: (s: any) => { s.ticks = priceTicks.map((v) => ({ value: v })); },
            ticks: { autoSkip: false, color: '#000', padding: 7, font: { family: AX_FONT, size: 12 }, callback: (v: any) => Number(v).toFixed(3) },
            grid: { drawOnChartArea: false, drawTicks: true, tickLength: 5, color: '#000', lineWidth: 1 },
            border: { display: false },
          },
        },
      } as any,
      plugins: [mainDecor],
    });

    const rsiChart = new Chart(rsiRef.current as HTMLCanvasElement, {
      type: 'line',
      data: {
        datasets: [
          { data: pts(rsi14), borderColor: '#1e90ff', borderWidth: 2.5, pointRadius: 0, tension: 0 },
        ],
      },
      options: {
        animation: false,
        responsive: false,
        devicePixelRatio: 1,
        events: [],
        layout: { padding: { left: 4, top: 2, right: 0, bottom: 0 } },
        plugins: { legend: { display: false }, tooltip: { enabled: false } },
        scales: {
          x: {
            type: 'linear', min: XMIN, max: XMAX, offset: false,
            afterFit: (s: any) => { s.height = 31; s.paddingLeft = 0; s.paddingRight = 0; },
            afterBuildTicks: (s: any) => { s.ticks = dateTickIndex.map((v) => ({ value: v })); },
            ticks: {
              autoSkip: false, maxRotation: 0, minRotation: 0, align: 'start', labelOffset: 3, padding: 1,
              color: '#000', font: { family: AX_FONT, size: 12 },
              callback: (_v: any, idx: number) => dateLabels[idx],
            },
            grid: { drawOnChartArea: false, drawTicks: true, tickLength: 5, color: '#000', lineWidth: 1 },
            border: { display: false },
          },
          y: {
            type: 'linear', position: 'right', min: 0, max: 100,
            afterFit: (s: any) => { s.width = AXIS_W; s.paddingTop = 0; s.paddingBottom = 0; },
            ticks: { display: false },
            grid: { display: false },
            border: { display: false },
          },
        },
      } as any,
      plugins: [rsiDecor],
    });

    return () => {
      main.destroy();
      rsiChart.destroy();
    };
  }, []);

  return (
    <div style={{ position: 'fixed', left: 0, top: 0, width: W, height: H, background: '#ffffff', overflow: 'hidden' }}>
      <canvas ref={mainRef} width={W} height={MAIN_H} style={{ position: 'absolute', left: 0, top: 0, width: W, height: MAIN_H }} />
      <canvas ref={rsiRef} width={W} height={RSI_H} style={{ position: 'absolute', left: 0, top: MAIN_H, width: W, height: RSI_H }} />
    </div>
  );
}
